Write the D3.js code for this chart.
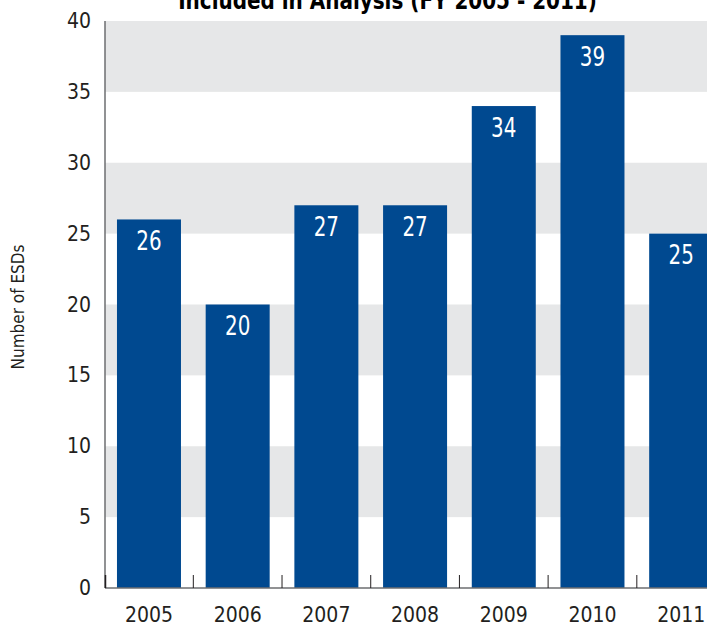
<!DOCTYPE html>
<html><head><meta charset="utf-8">
<script src="https://cdn.jsdelivr.net/npm/d3@7/dist/d3.min.js"></script>
<style>
html,body{margin:0;padding:0;background:#fff;}
svg{display:block;}
text{font-family:"Liberation Sans Narrow","DejaVu Sans Condensed","Open Sans",sans-serif;}
</style></head>
<body>
<svg id="c" width="707" height="627"></svg>
<script>
const years = ["2005","2006","2007","2008","2009","2010","2011"];
const values = [26,20,27,27,34,39,25];
const yTicks = [0,5,10,15,20,25,30,35,40];
const title = "Included in Analysis (FY 2005 - 2011)";
const yTitle = "Number of ESDs";

(function(){
const svg = d3.select("#c");
const W = 707, H = 627;
const left = 105, topY = 21, bottom = 588;

const y = d3.scaleLinear().domain([0,40]).range([bottom, topY]);
const pi = 0.2785, po = 0.135;
const x = d3.scaleBand().domain(years).range([left, left + 88.7*(years.length - pi + 2*po)])
  .paddingInner(pi).paddingOuter(po);

const bands = [[35,40],[25,30],[15,20],[5,10]];
svg.append("g").selectAll("rect").data(bands).join("rect")
  .attr("x", left).attr("width", W - left)
  .attr("y", d => y(d[1])).attr("height", d => y(d[0]) - y(d[1]))
  .attr("fill", "#e6e7e8");

svg.append("g").selectAll("rect").data(years).join("rect")
  .attr("x", d => x(d)).attr("width", x.bandwidth())
  .attr("y", (d,i) => y(values[i])).attr("height", (d,i) => y(0) - y(values[i]))
  .attr("fill", "#004990");

svg.append("g").selectAll("text").data(years).join("text")
  .attr("transform", (d,i) => `translate(${x(d) + x.bandwidth()/2},${y(values[i]) + 30.5}) scale(0.82,1)`)
  .attr("text-anchor", "middle").attr("fill", "#fff")
  .attr("font-size", 27)
  .text((d,i) => values[i]);

svg.append("line").attr("x1", left).attr("x2", left).attr("y1", topY).attr("y2", bottom)
  .attr("stroke", "#6d6e71").attr("stroke-width", 1.5);
svg.append("line").attr("x1", left).attr("x2", W).attr("y1", bottom).attr("y2", bottom)
  .attr("stroke", "#6d6e71").attr("stroke-width", 1.5);

const step = x.step();
const bounds = years.slice(1).map(d => x(d) - step*pi/2);
svg.append("g").selectAll("line").data(bounds).join("line")
  .attr("x1", d => d).attr("x2", d => d).attr("y1", bottom).attr("y2", bottom - 13)
  .attr("stroke", "#231f20").attr("stroke-width", 1);
svg.append("line").attr("x1", left+0.5).attr("x2", left+0.5).attr("y1", bottom).attr("y2", bottom-13)
  .attr("stroke", "#231f20").attr("stroke-width", 1.5);

svg.append("g").selectAll("text").data(yTicks).join("text")
  .attr("x", 91).attr("y", d => y(d) + 7)
  .attr("text-anchor", "end").attr("fill", "#231f20").attr("font-size", 21)
  .text(d => d);

svg.append("g").selectAll("text").data(years).join("text")
  .attr("x", d => x(d) + x.bandwidth()/2).attr("y", 622)
  .attr("text-anchor", "middle").attr("fill", "#231f20").attr("font-size", 21)
  .text(d => d);

svg.append("text").attr("transform", "translate(24,307) rotate(-90)")
  .attr("text-anchor", "middle").attr("fill", "#231f20").attr("font-size", 17)
  .text(yTitle);

svg.append("text").attr("transform", "translate(387.5,8.5) scale(0.888,1)")
  .attr("text-anchor", "middle").attr("fill", "#000").attr("font-size", 25).attr("font-weight", "bold")
  .text(title);
})();
</script>
</body></html>
